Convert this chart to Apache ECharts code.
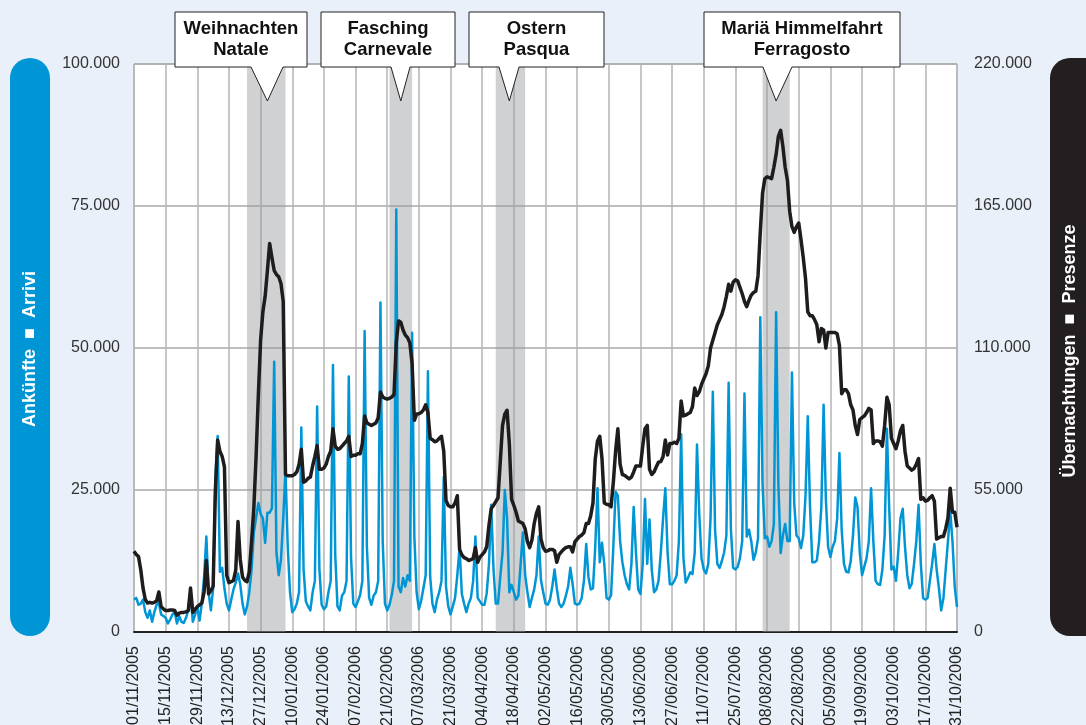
<!DOCTYPE html>
<html>
<head>
<meta charset="utf-8">
<title>Ankünfte / Übernachtungen 2005-2006</title>
<script src="https://cdn.jsdelivr.net/npm/echarts@6/dist/echarts.min.js"></script>
<style>
  html, body { margin: 0; padding: 0; background: #e9f0fa; }
  .chart { width: 1086px; height: 725px; }
</style>
</head>
<body>
<div class="chart"></div>
<script>
// daily values in thousands, 01/11/2005 .. 31/10/2006 (one row = 14 days)
var arrivals = [
  5.7, 6.0, 4.8, 5.0, 5.7, 3.5, 2.5, 3.8, 1.8, 3.5, 4.8, 5.1, 3.1, 2.8,
  2.5, 1.5, 2.2, 3.1, 3.5, 1.5, 2.8, 1.8, 1.6, 2.5, 3.8, 7.0, 1.8, 3.0,
  4.4, 2.0, 5.1, 9.7, 16.8, 7.0, 3.8, 7.7, 27.0, 34.5, 10.6, 11.3, 7.7, 5.0,
  3.8, 5.7, 7.5, 8.7, 10.3, 8.4, 5.0, 3.1, 4.5, 7.0, 11.0, 17.5, 20.1, 22.7,
  20.8, 20.0, 15.7, 21.0, 21.0, 21.8, 47.6, 14.0, 10.0, 12.7, 20.0, 28.5, 15.0, 7.0,
  3.5, 4.0, 5.0, 7.0, 36.0, 11.0, 5.4, 4.5, 3.8, 7.0, 9.0, 39.7, 11.0, 4.8,
  4.0, 4.5, 7.0, 9.0, 47.0, 13.6, 4.5, 3.8, 6.4, 7.0, 9.0, 45.0, 13.0, 5.0,
  4.4, 5.4, 6.5, 9.0, 53.0, 15.0, 6.0, 4.8, 6.4, 7.0, 9.0, 58.0, 16.0, 5.0,
  3.8, 4.8, 6.5, 9.0, 74.4, 8.0, 7.0, 9.5, 8.0, 10.0, 9.0, 52.7, 16.8, 7.0,
  4.0, 5.5, 7.7, 10.0, 45.9, 9.7, 5.0, 3.5, 5.7, 7.0, 9.0, 27.3, 8.0, 4.5,
  3.1, 4.5, 6.0, 10.0, 14.9, 6.7, 5.0, 3.5, 5.0, 6.0, 9.0, 16.8, 6.0, 5.4,
  4.8, 4.8, 6.8, 12.0, 22.4, 11.0, 5.0, 5.0, 9.7, 14.0, 25.0, 20.0, 7.0, 8.3,
  7.0, 5.7, 6.4, 12.0, 17.5, 10.0, 7.0, 4.4, 6.0, 7.5, 10.0, 16.8, 9.1, 7.0,
  5.0, 4.8, 5.7, 8.0, 11.0, 7.7, 5.0, 4.4, 5.0, 6.4, 8.0, 11.3, 8.4, 5.0,
  4.8, 5.0, 6.0, 9.0, 15.5, 9.7, 7.5, 7.7, 15.0, 25.3, 12.3, 15.7, 12.0, 6.0,
  5.7, 6.5, 15.0, 24.7, 24.0, 16.0, 12.3, 10.0, 8.4, 7.5, 12.0, 22.0, 14.0, 7.5,
  6.7, 12.0, 23.4, 12.0, 19.8, 11.0, 7.0, 7.5, 9.0, 14.0, 20.0, 25.3, 14.0, 8.4,
  8.4, 9.0, 10.0, 16.0, 34.8, 13.0, 8.7, 9.5, 10.5, 10.2, 14.0, 33.0, 20.8, 13.0,
  11.0, 10.3, 12.0, 20.0, 42.3, 18.0, 12.0, 11.3, 12.5, 14.0, 17.0, 43.9, 18.0, 11.3,
  11.0, 11.5, 13.0, 16.0, 42.0, 16.8, 18.0, 16.0, 12.7, 14.0, 16.5, 55.4, 26.0, 16.5,
  16.8, 15.0, 16.0, 19.0, 56.3, 26.0, 13.9, 17.0, 19.0, 16.0, 16.0, 45.7, 22.7, 17.0,
  16.5, 14.8, 17.0, 24.0, 38.0, 22.0, 12.3, 12.3, 12.6, 16.0, 22.0, 40.0, 23.4, 15.0,
  13.2, 15.0, 16.0, 20.0, 31.5, 18.0, 12.0, 10.6, 10.5, 12.5, 17.0, 23.7, 22.0, 14.0,
  10.0, 11.5, 13.0, 16.0, 25.3, 16.0, 9.0, 8.4, 8.3, 11.0, 17.0, 35.8, 22.0, 11.0,
  11.5, 9.0, 14.0, 20.0, 21.7, 15.0, 10.0, 7.7, 8.5, 12.0, 16.0, 22.4, 12.0, 6.0,
  5.7, 6.0, 9.0, 12.0, 15.5, 11.0, 7.7, 3.8, 6.0, 11.0, 16.0, 21.4, 16.0, 8.0,
  4.4
];
var overnights = [
  31.3, 30.0, 29.2, 24.0, 17.0, 12.6, 11.2, 11.5, 11.2, 11.5, 12.0, 15.5, 9.8, 9.0,
  8.3, 8.3, 8.5, 8.5, 8.3, 6.5, 7.3, 7.6, 7.6, 7.8, 8.3, 17.0, 7.6, 8.8,
  9.8, 10.5, 11.2, 15.5, 27.7, 14.8, 16.0, 17.7, 55.0, 74.4, 70.0, 68.0, 64.0, 22.0,
  19.1, 19.5, 20.0, 24.0, 42.8, 28.0, 21.3, 20.0, 19.5, 23.4, 35.0, 48.0, 68.0, 92.0,
  113.0, 124.0, 130.0, 140.0, 150.5, 145.0, 140.0, 138.5, 137.6, 135.0, 128.0, 61.0, 60.5, 60.5,
  60.5, 61.0, 62.0, 65.0, 70.8, 58.0, 58.5, 59.5, 60.0, 64.3, 68.0, 72.2, 63.0, 63.0,
  63.5, 65.0, 68.0, 70.0, 78.7, 72.0, 70.8, 71.0, 72.0, 73.0, 74.0, 75.8, 68.0, 68.5,
  68.5, 69.0, 69.0, 73.0, 83.7, 81.0, 80.5, 80.0, 80.5, 81.0, 83.0, 93.0, 91.0, 90.5,
  90.2, 90.5, 91.0, 92.0, 112.0, 120.5, 120.0, 117.0, 115.0, 114.0, 112.0, 104.0, 82.0, 84.4,
  84.5, 85.0, 86.0, 88.0, 85.0, 75.0, 74.5, 73.7, 74.0, 75.0, 75.8, 70.0, 51.0, 49.0,
  48.5, 48.5, 50.0, 52.8, 32.0, 29.9, 28.8, 28.4, 27.7, 28.0, 28.5, 32.7, 27.0, 29.0,
  30.0, 31.0, 33.0, 41.4, 47.8, 49.0, 50.5, 52.0, 66.0, 80.0, 84.4, 85.9, 73.0, 51.4,
  49.0, 46.4, 43.0, 42.5, 42.0, 40.0, 35.0, 32.7, 35.6, 42.0, 46.0, 48.5, 36.0, 32.7,
  31.3, 31.5, 32.0, 32.0, 31.5, 27.0, 30.0, 31.0, 32.0, 32.7, 33.0, 33.0, 31.0, 34.9,
  36.0, 37.0, 37.5, 38.5, 42.0, 42.0, 45.0, 50.0, 67.0, 74.0, 75.8, 67.0, 50.0, 49.5,
  49.3, 48.5, 58.0, 70.0, 78.7, 65.0, 61.0, 60.7, 60.0, 59.3, 60.0, 62.0, 64.3, 64.3,
  64.3, 72.0, 78.7, 80.0, 63.0, 61.0, 62.0, 64.0, 65.8, 66.0, 68.0, 74.4, 68.6, 73.0,
  73.0, 73.5, 73.0, 75.0, 89.5, 83.7, 84.0, 84.5, 85.0, 87.3, 94.5, 91.6, 93.0, 95.9,
  98.0, 100.0, 103.0, 110.0, 113.0, 116.0, 119.0, 121.0, 123.0, 126.0, 130.0, 134.7, 132.0, 135.5,
  136.4, 136.0, 133.5, 131.0, 128.0, 126.0, 128.5, 130.5, 131.5, 132.0, 138.0, 155.0, 170.0, 175.5,
  176.3, 176.0, 175.6, 180.0, 185.0, 192.0, 194.3, 188.0, 180.0, 175.0, 163.0, 157.0, 154.8, 157.0,
  158.4, 152.0, 145.0, 137.0, 124.0, 122.5, 122.5, 121.0, 119.0, 112.4, 117.5, 117.0, 110.0, 116.0,
  116.0, 116.0, 116.0, 115.5, 111.0, 92.3, 93.8, 93.8, 92.3, 88.0, 86.0, 80.0, 76.5, 82.3,
  83.0, 83.7, 85.0, 86.6, 86.0, 73.0, 74.0, 74.0, 73.7, 72.0, 80.0, 90.9, 88.0, 75.0,
  73.0, 71.0, 74.0, 78.0, 80.0, 70.0, 64.3, 63.5, 62.7, 63.3, 65.0, 67.2, 51.4, 52.0,
  50.7, 51.0, 52.0, 52.8, 50.7, 36.0, 36.5, 37.0, 37.0, 40.0, 44.2, 55.7, 46.4, 46.4,
  40.6
];
// holiday periods: [first day, last day] as day index
var holidays = [[50, 67], [113, 123], [160, 173], [278, 290]];
var holidayNames = ['Weihnachten\nNatale', 'Fasching\nCarnevale', 'Ostern\nPasqua', 'Mariä Himmelfahrt\nFerragosto'];
var holidayTips = [59, 118, 166, 284];
var leftTicks = [0, 25, 50, 75, 100];
var rightTicks = [0, 55, 110, 165, 220];

(function () {
  function pad(n) { return n < 10 ? '0' + n : '' + n }
  var dates = [];
  for (var i = 0; i < arrivals.length; i++) {
    var d = new Date(2005, 10, 1 + i);
    dates.push(pad(d.getDate()) + '/' + pad(d.getMonth() + 1) + '/' + d.getFullYear());
  }
  function fmt(v) { return v === 0 ? '0' : v + '.000' }

  var myChart = echarts.init(document.querySelector('.chart'));
  var option = {
    animation: false,
    backgroundColor: '#e9f0fa',
    grid: {
      left: 134, right: 129, top: 64, bottom: 93,
      // labels run off the bottom edge, keep grid fixed
      outerBoundsMode: 'none',
      containLabel: false,
      show: true,
      backgroundColor: '#fff',
      borderColor: '#9a9a9a',
      borderWidth: 1
    },
    xAxis: {
      type: 'category',
      boundaryGap: false,
      data: dates,
      axisLine: { lineStyle: { color: '#222', width: 2 } },
      axisTick: { show: false },
      axisLabel: {
        interval: 13,
        rotate: 90,
        margin: 14,
        color: '#222',
        fontSize: 16,
        fontFamily: 'Liberation Sans'
      },
      splitLine: { show: true, interval: 13, lineStyle: { color: '#b4b4b4', width: 1.5 } }
    },
    yAxis: [{
      type: 'value',
      min: leftTicks[0], max: leftTicks[leftTicks.length - 1], interval: 25,
      axisLine: { show: false },
      axisTick: { show: false },
      axisLabel: { formatter: fmt, color: '#333', fontSize: 16, margin: 14, fontFamily: 'Liberation Sans' },
      splitLine: { lineStyle: { color: '#a8a8a8', width: 1.5 } }
    }, {
      type: 'value',
      position: 'right',
      min: rightTicks[0], max: rightTicks[rightTicks.length - 1], interval: 55,
      axisLine: { show: false },
      axisTick: { show: false },
      axisLabel: { formatter: fmt, color: '#333', fontSize: 16, margin: 17, fontFamily: 'Liberation Sans' },
      splitLine: { show: false }
    }],
    series: [{
      name: 'Ankünfte',
      type: 'line',
      yAxisIndex: 0,
      data: arrivals,
      showSymbol: false,
      lineStyle: { color: '#0096d6', width: 2.5, join: 'round' },
      // grey holiday bands
      markArea: {
        silent: true,
        itemStyle: { color: 'rgba(150,152,156,0.45)' },
        data: holidays.map(function (h) {
          return [{ xAxis: dates[h[0]] }, { xAxis: dates[h[1]] }]
        })
      }
    }, {
      name: 'Übernachtungen',
      type: 'line',
      yAxisIndex: 1,
      data: overnights,
      showSymbol: false,
      lineStyle: { color: '#1e1c1c', width: 3.5, join: 'round' }
    }]
  };
  myChart.setOption(option);

  // side pills + holiday callouts
  var boxes = [[175, 307, 251, 283], [321, 455, 391, 410], [469, 604, 499, 519], [704, 900, 763, 792]];
  var g = [
    { type: 'rect', shape: { x: 10, y: 58, width: 40, height: 578, r: 20 }, style: { fill: '#0096d6' } },
    { type: 'text', x: 30, y: 349, rotation: Math.PI / 2,
      style: { text: 'Ankünfte  ■  Arrivi', fill: '#fff', font: 'bold 18px "Liberation Sans"', align: 'center', verticalAlign: 'middle' } },
    { type: 'rect', shape: { x: 1050, y: 58, width: 70, height: 578, r: 20 }, style: { fill: '#231f20' } },
    { type: 'text', x: 1070, y: 351, rotation: Math.PI / 2,
      style: { text: 'Übernachtungen  ■  Presenze', fill: '#fff', font: 'bold 18px "Liberation Sans"', align: 'center', verticalAlign: 'middle' } }
  ];
  holidayNames.forEach(function (name, k) {
    var b = boxes[k];
    var tip = myChart.convertToPixel({ xAxisIndex: 0 }, dates[holidayTips[k]]);
    var top = 12, bot = 67;
    g.push({
      type: 'polygon', z: 100,
      shape: { points: [[b[0], top], [b[1], top], [b[1], bot], [b[3], bot], [tip, 101], [b[2], bot], [b[0], bot]] },
      style: { fill: '#fff', stroke: '#222', lineWidth: 1 }
    });
    g.push({
      type: 'text', z: 101, x: (b[0] + b[1]) / 2, y: (top + bot) / 2,
      style: { text: name, fill: '#111', font: 'bold 18.5px "Liberation Sans"', lineHeight: 21, align: 'center', verticalAlign: 'middle' }
    });
  });
  myChart.setOption({ graphic: g });

  window.addEventListener('resize', function () {
    myChart.resize();
  });
})();
</script>
</body>
</html>
